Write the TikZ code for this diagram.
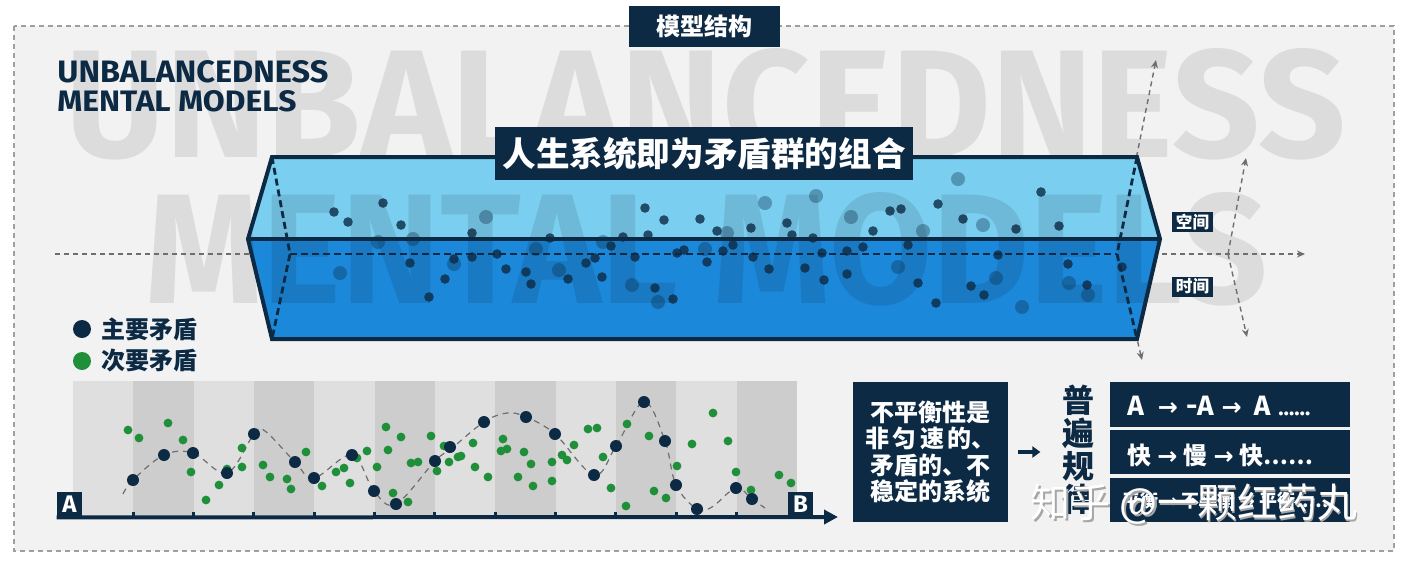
\documentclass[tikz,border=0pt]{standalone}
\usepackage{fontspec}
\usepackage{graphicx}
\usetikzlibrary{arrows.meta}
\setmainfont{Fira Sans}
\newfontfamily\cjk{Noto Sans CJK SC}
\newfontfamily\symf{DejaVu Sans}
\definecolor{navy}{HTML}{0D2A45}
\definecolor{paper}{HTML}{F2F2F2}
\definecolor{ghost}{HTML}{DCDCDC}
\definecolor{skyblue}{HTML}{7ACFF0}
\definecolor{deepblue}{HTML}{1C88DA}
\definecolor{leaf}{HTML}{1F8F3A}
\definecolor{colA}{HTML}{DFDFDF}
\definecolor{colB}{HTML}{CDCDCD}
\definecolor{guide}{HTML}{6E6E6E}

\tikzset{
  navybox/.style={fill=navy, text=white, inner sep=0pt, font=\cjk\bfseries},
  guideline/.style={color=guide, line width=0.7pt, dash pattern=on 2.5pt off 2pt, -{Stealth[length=4pt,width=3.5pt]}},
  backedge/.style={navy, line width=1.4pt, dash pattern=on 3.5pt off 2pt},
  bigletters/.style={inner sep=0pt, anchor=base west, text=ghost},
  keydot/.style={circle, inner sep=0pt, minimum size=9pt},
}
\newcommand{\rulearrow}{{\symf\fontsize{12pt}{12pt}\selectfont →}}

\begin{document}
\begin{tikzpicture}[x=0.5pt, y=-0.5pt]
  \useasboundingbox (0,0) rectangle (1410,564);
  \fill[white] (0,0) rectangle (1410,564);
  \draw[color=gray!75, fill=paper, line width=0.7pt, dash pattern=on 2.5pt off 2pt] (14,26) rectangle (1394,551);

  % big grey letters behind
  \node[bigletters] (ghost1) at (65,157) {\resizebox{640pt}{54.5pt}{\bfseries UNBALANCEDNESS}};
  \node[bigletters] (ghost2) at (145,303) {\resizebox{561pt}{55.5pt}{\bfseries MENTAL MODELS}};

  \node[inner sep=0pt, anchor=base west, text=navy] (name1) at (57,82) {\resizebox{135.5pt}{11pt}{\bfseries UNBALANCEDNESS}};
  \node[inner sep=0pt, anchor=base west, text=navy] (name2) at (57,111) {\resizebox{119.5pt}{10.5pt}{\bfseries MENTAL MODELS}};

  \node[navybox, minimum width=75.5pt, minimum height=20.5pt] (frame title) at (704.5,26.5) {\fontsize{12pt}{12pt}\selectfont 模型结构};

  \coordinate (tl) at (272,157);
  \coordinate (tr) at (1137,157);
  \coordinate (rp) at (1160,239);
  \coordinate (br) at (1137,339);
  \coordinate (bl) at (272,339);
  \coordinate (lp) at (248,239);
  \coordinate (bkL) at (290,254);
  \coordinate (bkR) at (1117,254);
  \coordinate (cross) at (1228,254);

  \draw[guideline] (55,254) -- (1305,254);
  \draw[guideline] (bkR) -- (1156,60);
  \draw[guideline] (bkR) -- (1142,360);
  \draw[guideline] (cross) -- (1246,158);
  \draw[guideline] (cross) -- (1247,337);

  \fill[skyblue] (tl) -- (tr) -- (rp) -- (lp) -- cycle;
  \fill[deepblue] (lp) -- (rp) -- (br) -- (bl) -- cycle;
  \begin{scope}
    \clip (tl) -- (tr) -- (rp) -- (br) -- (bl) -- (lp) -- cycle;
    \node[bigletters, text=black, text opacity=0.1] at (65,157) {\resizebox{640pt}{54.5pt}{\bfseries UNBALANCEDNESS}};
    \node[bigletters, text=black, text opacity=0.1] at (145,303) {\resizebox{561pt}{55.5pt}{\bfseries MENTAL MODELS}};
  \end{scope}

  % contradictions inside the system
  \foreach \x/\y in {378/242,413/239,486/217,340/273,454/264,536/249,559/270,603/242,632/285,658/302,705/249,727/233,765/203,816/196,851/217,898/267,923/231,958/179,983/225,996/278,1022/307,1069/283,1088/295}
    \fill[navy, opacity=0.35] (\x,\y) circle[radius=3.5pt];
  \foreach \x/\y in {334/212,348/222,383/203,401/225,472/233,472/257,410/263,454/259,445/279,429/297,497/254,506/269,526/272,531/284,550/238,568/279,586/263,595/258,602/277,611/246,623/237,635/257,645/208,648/235,655/288,673/299,664/220,677/253,684/250,700/219,707/262,717/231,723/251,733/245,751/228,753/257,769/269,787/223,792/235,813/238,805/268,822/253,824/280,847/251,847/274,863/247,873/231,890/211,901/209,908/245,918/283,938/204,936/303,963/219,971/286,984/295,998/255,1016/229,1041/192,1059/226,1068/264,1087/285,1122/267}
    \fill[navy, opacity=0.8] (\x,\y) circle[radius=2.4pt];

  \draw[backedge] (tl) -- (bkL) -- (bl);
  \draw[backedge] (bkL) -- (bkR);
  \draw[backedge] (tr) -- (bkR) -- (br);
  \draw[navy, line width=2pt, line join=miter] (tl) -- (tr) -- (rp) -- (br) -- (bl) -- (lp) -- cycle;
  \draw[navy, line width=2pt] (lp) -- (rp);

  \node[navybox, minimum width=209pt, minimum height=26.5pt] (system) at (704,153.5) {\fontsize{16.8pt}{16.8pt}\selectfont 人生系统即为矛盾群的组合};

  \node[navybox, minimum width=20.5pt, minimum height=10pt] (space) at (1192.5,222) {\fontsize{8.3pt}{8.3pt}\selectfont 空间};
  \node[navybox, minimum width=20.5pt, minimum height=10pt] (time) at (1192.5,286.5) {\fontsize{8.3pt}{8.3pt}\selectfont 时间};

  % legend
  \node[keydot, fill=navy] (kmain) at (82,329) {};
  \node[keydot, fill=leaf] (kminor) at (82,361) {};
  \node[anchor=west, inner sep=0pt, text=navy, font=\cjk\bfseries\fontsize{12pt}{12pt}\selectfont] (tmain) at (101,329) {主要矛盾};
  \node[anchor=west, inner sep=0pt, text=navy, font=\cjk\bfseries\fontsize{12pt}{12pt}\selectfont] (tminor) at (101,361) {次要矛盾};

  % A -> B chart
  \foreach \i in {0,2,...,10}
    \fill[colA] ({73+60.33*\i},381) rectangle ({73+60.33*(\i+1)},517);
  \foreach \i in {1,3,...,11}
    \fill[colB] ({73+60.33*\i},381) rectangle ({73+60.33*(\i+1)},517);
  \foreach \i in {1,...,11}
    \fill[navy] ({73+60.33*\i-1.5},512) rectangle ++(3,5);

  \node[navybox, minimum size=12.5pt, font=\bfseries\fontsize{12pt}{12pt}\selectfont] (A) at (69.5,504.5) {A};
  \node[navybox, minimum size=12.5pt, font=\bfseries\fontsize{12pt}{12pt}\selectfont] (B) at (800.5,504.5) {B};
  \coordinate (axis end) at (838,517);
  \draw[navy, line width=2pt, -{Triangle[length=7pt,width=7pt]}] (A.south west) -- (axis end);

  \draw[color=guide, line width=0.6pt, dash pattern=on 3pt off 2.5pt] plot[smooth, tension=0.6] coordinates {
    (123,494) (133,480) (164,455) (193,453) (227,473) (254,434) (265,431) (295,462) (314,478)
    (352,455) (374,491) (396,504) (435,461) (452,448) (484,422) (507,413) (526,417) (555,434)
    (594,475) (616,446) (644,402) (665,441) (676,485) (697,509) (712,507) (736,488) (752,499) (765,508)};

  \foreach \x/\y in {128/430,139/438,168/423,183/440,191/472,206/500,219/485,227/469,242/467,242/448,263/465,270/477,287/479,291/489,306/452,322/486,336/472,344/468,350/483,357/458,367/451,377/467,386/427,388/450,401/437,393/493,408/502,411/463,418/462,431/436,437/471,444/446,449/462,458/457,461/456,473/443,475/467,488/477,503/439,501/451,507/449,518/477,524/452,531/464,533/486,552/462,552/481,562/455,567/460,574/445,588/429,597/428,603/457,611/488,626/506,627/424,649/436,654/491,666/498,677/466,692/444,713/413,728/441,736/472,751/490,779/475,791/483}
    \fill[leaf] (\x,\y) circle[radius=2.2pt];
  \foreach \x/\y in {133/480,164/455,193/453,227/473,254/434,295/462,314/478,352/455,374/491,396/504,435/461,450/447,484/422,526/417,555/434,594/475,616/446,644/402,665/441,676/485,697/509,736/488,752/499}
    \fill[navy] (\x,\y) circle[radius=3pt];

  % law boxes
  \node[navybox, minimum width=77.5pt, minimum height=70pt, align=center, font=\cjk\bfseries\fontsize{12pt}{13.3pt}\selectfont] (sys) at (930.5,452) {不平衡性是\\非\hspace{1.6pt}匀\hspace{1.6pt}速\hspace{1.6pt}的、\\矛盾的、不\\稳定的系统};
  \draw[navy, line width=1.6pt, -{Triangle[length=4pt,width=5.5pt]}] ([xshift=5pt]sys.east) -- ([xshift=16pt]sys.east);
  \node[inner sep=0pt, text=navy, align=center, font=\cjk\bfseries\fontsize{16pt}{16.5pt}\selectfont] (law) at (1078,450) {普\\遍\\规\\律};

  \node[navybox, minimum width=120pt, minimum height=22.5pt] (rule1) at (1230,404.5) {};
  \node[navybox, minimum width=120pt, minimum height=22pt] (rule2) at (1230,452) {};
  \node[navybox, minimum width=120pt, minimum height=22pt] (rule3) at (1230,500) {};
  \node[anchor=west, inner sep=0pt, text=white] (t1) at (1127,406) {\bfseries\fontsize{14pt}{14pt}\selectfont A\hspace{7pt}\rulearrow\hspace{4pt}-A\hspace{4pt}\rulearrow\hspace{6pt}A\hspace{4pt}{\fontsize{11pt}{11pt}\selectfont ……}};
  \node[anchor=west, inner sep=0pt, text=white] (t2) at (1127,455) {\cjk\bfseries\fontsize{12pt}{12pt}\selectfont 快\hspace{3pt}\rulearrow\hspace{3pt}慢\hspace{3pt}\rulearrow\hspace{3pt}快{\bfseries\fontsize{11pt}{11pt}\selectfont ……}};
  \node[anchor=west, inner sep=0pt, text=white] (t3) at (1122,501) {\cjk\bfseries\fontsize{9pt}{9pt}\selectfont 平衡 {\symf →} 不平衡 {\symf →} 平衡……};

  \node[inner sep=0pt, text=gray!70, font=\cjk\fontsize{20pt}{20pt}\selectfont] (wm shadow) at (1195.5,506) {知乎 @一颗红药丸};
  \node[inner sep=0pt, text=white, font=\cjk\fontsize{20pt}{20pt}\selectfont] (wm) at (1194,504.5) {知乎 @一颗红药丸};
\end{tikzpicture}
\end{document}
